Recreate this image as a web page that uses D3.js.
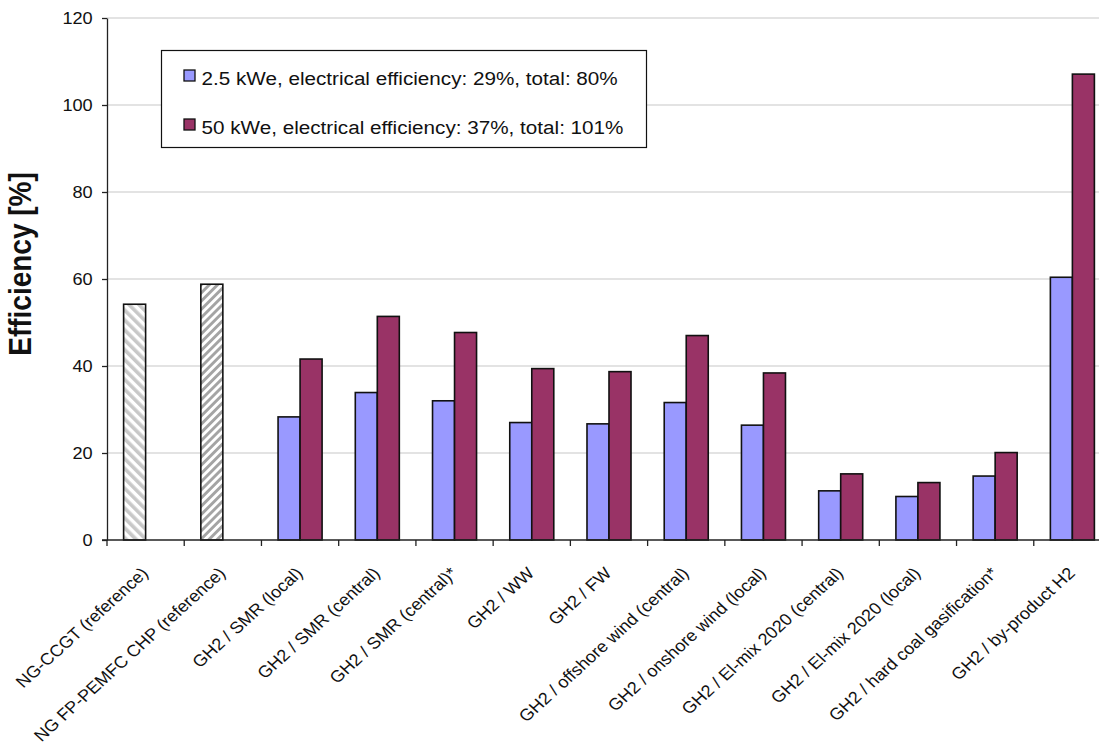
<!DOCTYPE html>
<html>
<head>
<meta charset="utf-8">
<script src="https://cdn.jsdelivr.net/npm/d3@7/dist/d3.min.js"></script>
<style>
  html, body { margin: 0; padding: 0; background: #fff; }
  svg { display: block; font-family: "Liberation Sans", Arial, sans-serif; }
</style>
</head>
<body>
<svg id="chart" width="1099" height="744"></svg>
<script>
// Hydrogen pathway categories
const categories = [
  "NG-CCGT (reference)",
  "NG FP-PEMFC CHP (reference)",
  "GH2 / SMR (local)",
  "GH2 / SMR (central)",
  "GH2 / SMR (central)*",
  "GH2 / WW",
  "GH2 / FW",
  "GH2 / offshore wind (central)",
  "GH2 / onshore wind (local)",
  "GH2 / El-mix 2020 (central)",
  "GH2 / El-mix 2020 (local)",
  "GH2 / hard coal gasification*",
  "GH2 / by-product H2"
];

// Reference systems (hatched bars)
const referenceValues = [54.2, 58.8, null, null, null, null, null, null, null, null, null, null, null];
// 2.5 kWe fuel cell system
const smallSystem = [null, null, 28.3, 33.9, 32.0, 27.0, 26.7, 31.6, 26.4, 11.3, 10.0, 14.7, 60.4];
// 50 kWe fuel cell system
const largeSystem = [null, null, 41.6, 51.4, 47.7, 39.4, 38.7, 47.0, 38.4, 15.2, 13.2, 20.1, 107.1];

const seriesNames = [
  "2.5 kWe, electrical efficiency: 29%, total: 80%",
  "50 kWe, electrical efficiency: 37%, total: 101%"
];
const yTicks = [0, 20, 40, 60, 80, 100, 120];

// Text is drawn slightly wide, as in the original chart export
const TEXT_STRETCH = 1.1;

const svg = d3.select("#chart");
const plot = { left: 107, right: 1111, top: 18, bottom: 540 };

const x = d3.scaleBand()
  .domain(categories)
  .range([plot.left, plot.right])
  .paddingInner(0.43)
  .paddingOuter(0.215);

const xs = d3.scaleBand()
  .domain([0, 1])
  .range([0, x.bandwidth()]);

const y = d3.scaleLinear()
  .domain([0, 120])
  .range([plot.bottom, plot.top]);

// Hatch fills for the reference bars
const defs = svg.append("defs");
const hatch1 = defs.append("pattern")
  .attr("id", "hatchBack")
  .attr("patternUnits", "userSpaceOnUse")
  .attr("width", 7).attr("height", 7)
  .attr("patternTransform", "rotate(-45)");
hatch1.append("rect").attr("width", 7).attr("height", 7).attr("fill", "#fff");
hatch1.append("rect").attr("width", 3.6).attr("height", 7).attr("fill", "#c8c8c8");

const hatch2 = defs.append("pattern")
  .attr("id", "hatchFwd")
  .attr("patternUnits", "userSpaceOnUse")
  .attr("width", 5.8).attr("height", 5.8)
  .attr("patternTransform", "rotate(45)");
hatch2.append("rect").attr("width", 5.8).attr("height", 5.8).attr("fill", "#fff");
hatch2.append("rect").attr("width", 2.9).attr("height", 5.8).attr("fill", "#a4a4a4");

// Horizontal gridlines
svg.append("g")
  .selectAll("line")
  .data(yTicks.filter(d => d > 0))
  .join("line")
  .attr("x1", plot.left).attr("x2", plot.right)
  .attr("y1", d => y(d)).attr("y2", d => y(d))
  .attr("stroke", "#c8c8c8")
  .attr("stroke-width", 1.2);

// Bars
const barStroke = { stroke: "#111", width: 1.6 };
const refFills = ["url(#hatchBack)", "url(#hatchFwd)"];

svg.append("g")
  .selectAll("rect")
  .data(categories.map((c, i) => ({ c, v: referenceValues[i], i })).filter(d => d.v != null))
  .join("rect")
  .attr("x", d => x(d.c) + xs(0))
  .attr("y", d => y(d.v))
  .attr("width", xs.bandwidth())
  .attr("height", d => y(0) - y(d.v))
  .attr("fill", d => refFills[d.i])
  .attr("stroke", barStroke.stroke)
  .attr("stroke-width", barStroke.width);

const colors = ["#9999ff", "#993366"];
[smallSystem, largeSystem].forEach((vals, s) => {
  svg.append("g")
    .selectAll("rect")
    .data(categories.map((c, i) => ({ c, v: vals[i] })).filter(d => d.v != null))
    .join("rect")
    .attr("x", d => x(d.c) + xs(s))
    .attr("y", d => y(d.v))
    .attr("width", xs.bandwidth())
    .attr("height", d => y(0) - y(d.v))
    .attr("fill", colors[s])
    .attr("stroke", barStroke.stroke)
    .attr("stroke-width", barStroke.width);
});

// Y axis
const yAxis = svg.append("g")
  .attr("transform", `translate(${plot.left},0)`)
  .call(d3.axisLeft(y).tickValues(yTicks).tickSize(5).tickPadding(8).tickSizeOuter(0));
yAxis.select(".domain").attr("stroke", "#222").attr("stroke-width", 1.3);
yAxis.selectAll(".tick line").attr("stroke", "#222").attr("stroke-width", 1.3);
yAxis.selectAll(".tick text")
  .attr("font-size", 16.5)
  .attr("fill", "#111")
  .attr("transform", `scale(${TEXT_STRETCH},1)`)
  .style("font-family", "'Liberation Sans', Arial, sans-serif");

// X axis line with ticks at category boundaries
const boundaries = d3.range(categories.length + 1).map(i => plot.left + i * x.step());
const xAxis = svg.append("g");
xAxis.append("line")
  .attr("x1", plot.left - 5).attr("x2", plot.right)
  .attr("y1", plot.bottom).attr("y2", plot.bottom)
  .attr("stroke", "#222").attr("stroke-width", 1.3);
xAxis.selectAll("line.tk")
  .data(boundaries)
  .join("line")
  .attr("class", "tk")
  .attr("x1", d => d).attr("x2", d => d)
  .attr("y1", plot.bottom).attr("y2", plot.bottom + 6)
  .attr("stroke", "#222").attr("stroke-width", 1.3);

// Rotated category labels
xAxis.selectAll("text")
  .data(categories)
  .join("text")
  .attr("transform", d =>
    `translate(${x(d) + x.bandwidth() / 2 - 5.5},${plot.bottom + 26}) scale(${TEXT_STRETCH},1) rotate(-45)`)
  .attr("text-anchor", "end")
  .attr("dy", "0.71em")
  .attr("font-size", 16.5)
  .attr("fill", "#111")
  .text(d => d);

// Y axis title
svg.append("text")
  .attr("transform", `translate(31,264) scale(${TEXT_STRETCH},1) rotate(-90)`)
  .attr("text-anchor", "middle")
  .attr("font-size", 28)
  .attr("font-weight", "bold")
  .attr("fill", "#111")
  .text("Efficiency [%]");

// Legend
const legend = svg.append("g");
legend.append("rect")
  .attr("x", 161.5).attr("y", 50.5)
  .attr("width", 485).attr("height", 97)
  .attr("fill", "#fff")
  .attr("stroke", "#111").attr("stroke-width", 1.2);
const rowBaselines = [85, 134];
seriesNames.forEach((name, i) => {
  legend.append("rect")
    .attr("x", 184).attr("y", rowBaselines[i] - 15)
    .attr("width", 11).attr("height", 11)
    .attr("fill", colors[i])
    .attr("stroke", "#111").attr("stroke-width", 1.3);
  legend.append("text")
    .attr("transform", `translate(201.5,${rowBaselines[i]}) scale(${TEXT_STRETCH},1)`)
    .attr("font-size", 18.8)
    .attr("fill", "#111")
    .text(name);
});
</script>
</body>
</html>
